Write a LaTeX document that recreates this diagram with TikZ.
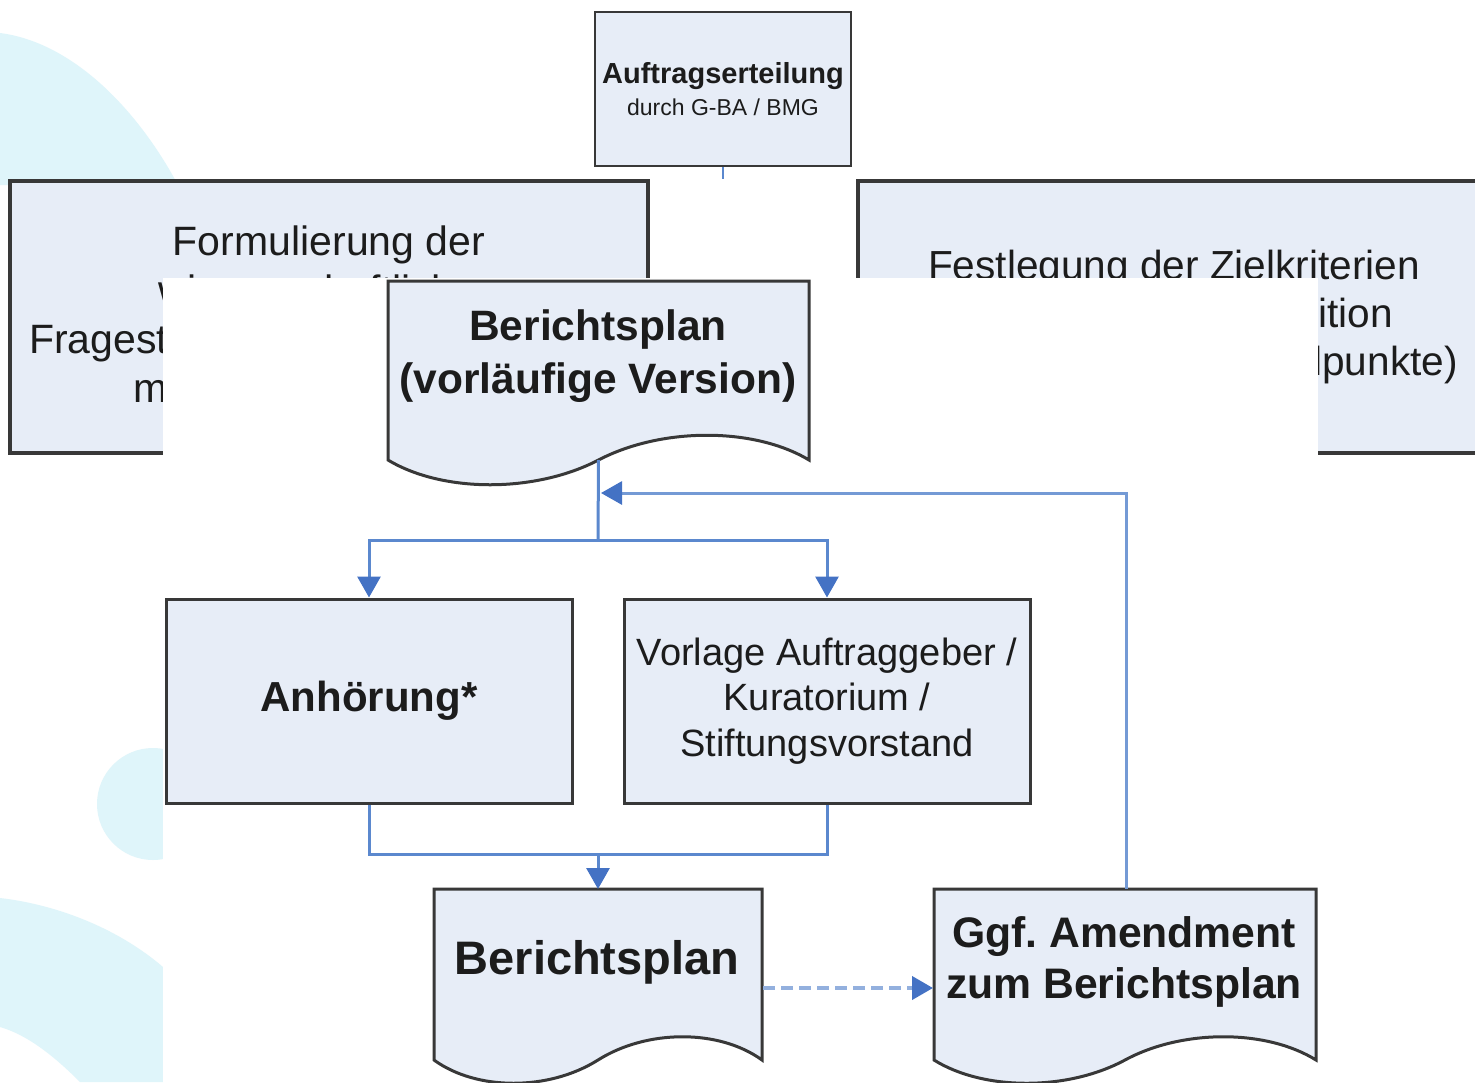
\documentclass[tikz,border=0pt]{standalone}
\usepackage{fontspec}
\setmainfont{Liberation Sans}
\usetikzlibrary{arrows.meta}
\definecolor{boxfill}{HTML}{E7EDF7}
\definecolor{cyanbg}{HTML}{DFF5FA}
\definecolor{flow}{HTML}{5B88CE}
\definecolor{flowlight}{HTML}{93B0DE}
\definecolor{tipblue}{HTML}{4472C4}
\definecolor{edgegray}{HTML}{383838}
\definecolor{ink}{HTML}{1C1C1C}
\newcommand{\fsz}[2]{\fontsize{#1}{#2}\selectfont}
\tikzset{
  procbox/.style={draw=edgegray, line width=3pt, fill=boxfill, inner sep=0pt, align=center, text=ink},
  docbox/.style={draw=edgegray, line width=3pt, fill=boxfill},
  txt/.style={inner sep=0pt, text=ink, align=center},
  flowline/.style={draw=flow, line width=3pt},
  flowarrow/.style={flowline, -{Triangle[length=21pt,width=23pt,color=tipblue]}},
}
% #1 name, #2 x left, #3 x right, #4 y top, #5 y side bottom, #6 wave amplitude
\newcommand{\docshape}[6]{%
  \pgfmathsetmacro{\dw}{#3-#2}%
  \pgfmathsetmacro{\dm}{(#2+#3)/2}%
  \pgfmathsetmacro{\ca}{#2+0.13*\dw}%
  \pgfmathsetmacro{\cb}{#2+0.35*\dw}%
  \pgfmathsetmacro{\cc}{#2+0.65*\dw}%
  \pgfmathsetmacro{\cd}{#2+0.87*\dw}%
  \pgfmathsetmacro{\ylo}{#5+#6}%
  \pgfmathsetmacro{\yhi}{#5-#6}%
  \draw[docbox] (#2,#4) -- (#3,#4) -- (#3,#5)
     .. controls (\cd,\yhi) and (\cc,\yhi) .. (\dm,#5)
     .. controls (\cb,\ylo) and (\ca,\ylo) .. (#2,#5) -- cycle;
  \coordinate (#1-n) at (\dm,#4);
  \coordinate (#1-s) at (\dm,#5);
}
\begin{document}
\begin{tikzpicture}[x=1pt,y=-1pt]
\useasboundingbox (0,0) rectangle (1475,1082);
\clip (0,0) rectangle (1475,1082);
\fill[white] (0,0) rectangle (1475,1082);

% background decoration
\fill[cyanbg] (0,33) .. controls (70,42) and (135,105) .. (178,185) -- (0,185) -- cycle;
\fill[cyanbg] (153,804) circle[radius=56];
\fill[cyanbg] (0,898) .. controls (60,905) and (120,930) .. (163,967) -- (163,1082) -- (80,1082)
   .. controls (55,1057) and (28,1035) .. (0,1027) -- cycle;

% top row
\node[procbox, line width=2pt, minimum width=256pt, minimum height=154pt, font=\fsz{23}{32}] (order) at (723,89)
  {{\fsz{29}{32}\bfseries Auftragserteilung}\\durch G-BA / BMG};

\node[procbox, line width=3.5pt, minimum width=638pt, minimum height=272pt] (quest) at (329,317) {};
\node[txt, anchor=base, font=\fsz{41}{49}] (quest-a) at (329,255) {Formulierung der};
\node[txt, anchor=base, font=\fsz{41}{49}] (quest-b) at (329,304) {wissenschaftlichen};
\node[txt, anchor=base west, font=\fsz{41}{49}] (quest-c) at (29,353) {Fragest};
\node[txt, anchor=base west, font=\fsz{41}{49}] (quest-d) at (133,402) {m};

\node[procbox, line width=3.5pt, minimum width=632pt, minimum height=272pt] (crit) at (1174,317) {};
\node[txt, anchor=base, font=\fsz{40.6}{49}] (crit-a) at (1174,279) {Festlegung der Zielkriterien};
\node[txt, anchor=base east, font=\fsz{40.6}{49}] (crit-b) at (1393,327) {ition};
\node[txt, anchor=base east, font=\fsz{40.6}{49}] (crit-c) at (1458,375) {lpunkte)};

\coordinate (stub) at (723,179);
\draw[flowline, line width=2pt] (order.south) -- (stub);

% white overlay
\fill[white] (163,278) rectangle (1318,1082);

% report plan (preliminary)
\docshape{plan}{388}{809}{281}{460}{33}
\node[txt, font=\fsz{42.5}{53}\bfseries] (plan-t) at (598,356) {Berichtsplan\\(vorläufige Version)};

% middle boxes
\node[procbox, minimum width=406pt, minimum height=204pt, font=\fsz{42}{50}\bfseries] (hear) at (369,701) {Anhörung*};
\node[procbox, minimum width=406pt, minimum height=204pt, font=\fsz{38}{45.5}] (present) at (827,701)
  {Vorlage Auftraggeber /\\Kuratorium /\\Stiftungsvorstand};

% bottom documents
\docshape{final}{434}{762}{889}{1060}{31}
\node[txt, font=\fsz{47}{55}\bfseries] (final-t) at (597,962) {Berichtsplan};
\docshape{amend}{934}{1316}{889}{1060}{31}
\node[txt, font=\fsz{42.7}{51}\bfseries] (amend-t) at (1124,962) {Ggf.\ Amendment\\zum Berichtsplan};

% connectors
\coordinate (split) at (598,540);
\coordinate (merge) at (598,853);
\coordinate (back) at (601,493);
\coordinate (final-e) at (763,988);
\coordinate (amend-w) at (933,988);
\coordinate (amend-top) at (1126,889);

\draw[flowline] (plan-s) -- (split);
\draw[flowarrow] (split) -| (hear.north);
\draw[flowarrow] (split) -| (present.north);
\draw[flowarrow, draw=flow!85!white] (amend-top) |- (back);
\draw[flowline] (hear.south) -- ++(0,50) -| (present.south);
\draw[flowarrow] (merge) -- (final-n);
\draw[flowarrow, draw=flowlight, line width=4pt, dash pattern=on 12pt off 6pt] (final-e) -- (amend-w);
\end{tikzpicture}
\end{document}
